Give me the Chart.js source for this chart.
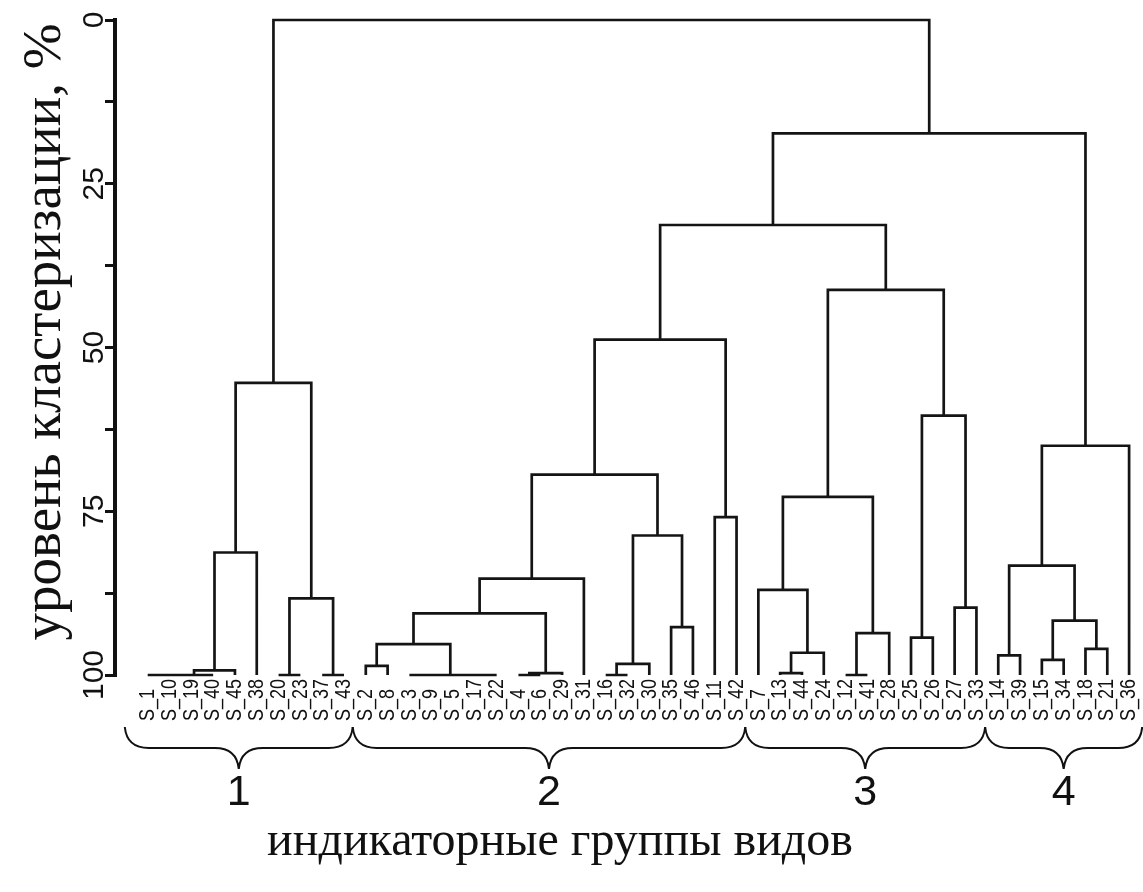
<!DOCTYPE html>
<html>
<head>
<meta charset="utf-8">
<script src="https://cdn.jsdelivr.net/npm/chart.js"></script>
<style>
  body { margin: 0; background: #fff; }
  #wrap { width: 1143px; height: 892px; }
</style>
</head>
<body>
<div id="wrap"><canvas id="dendro"></canvas></div>
<script>
// leaves in the order they stand along the bottom
const leaves = ['S_1', 'S_10', 'S_19', 'S_40', 'S_45', 'S_38', 'S_20', 'S_23', 'S_37', 'S_43',
    'S_2', 'S_8', 'S_3', 'S_9', 'S_5', 'S_17', 'S_22', 'S_4', 'S_6', 'S_29', 'S_31', 'S_16',
    'S_32', 'S_30', 'S_35', 'S_46', 'S_11', 'S_42', 'S_7', 'S_13', 'S_44', 'S_24', 'S_12',
    'S_41', 'S_28', 'S_25', 'S_26', 'S_27', 'S_33', 'S_14', 'S_39', 'S_15', 'S_34', 'S_18',
    'S_21', 'S_36'];

// merges: [left, right, level %] - a string is a leaf, a number is an earlier merge
const merges = [
    ['S_1', 'S_10', 100], [0, 'S_19', 100], [1, 'S_40', 100], [2, 'S_45', 99.3],
    [3, 'S_38', 81.3], ['S_20', 'S_23', 100], ['S_37', 'S_43', 100], [5, 6, 88.3],
    [4, 7, 55.4],
    ['S_2', 'S_8', 98.6], ['S_3', 'S_9', 100], ['S_5', 'S_17', 100], [11, 'S_22', 100],
    [10, 12, 100], [9, 13, 95.3], ['S_4', 'S_6', 100], [15, 'S_29', 99.7], [14, 16, 90.6],
    [17, 'S_31', 85.3], ['S_16', 'S_32', 100], [19, 'S_30', 98.3], ['S_35', 'S_46', 92.7],
    [20, 21, 78.7], [18, 22, 69.4], ['S_11', 'S_42', 75.9], [23, 24, 48.8],
    ['S_13', 'S_44', 99.7], [26, 'S_24', 96.6], ['S_7', 27, 87.0], ['S_12', 'S_41', 100],
    [29, 'S_28', 93.6], [28, 30, 72.8], ['S_25', 'S_26', 94.3], ['S_27', 'S_33', 89.7],
    [32, 33, 60.4], [31, 34, 41.2], [25, 35, 31.3],
    ['S_14', 'S_39', 97.0], ['S_15', 'S_34', 97.7], ['S_18', 'S_21', 96.0], [38, 39, 91.7],
    [37, 40, 83.3], [41, 'S_36', 65.0], [36, 42, 17.3],
    [8, 43, 0]
];

const groupNames = ['1', '2', '3', '4'];
const groupSizes = [10, 18, 11, 7];
const yTicks = [0, 25, 50, 75, 100];

// turn merges into one broken line of brackets
const leafPos = {};
leaves.forEach((name, i) => { leafPos[name] = i + 1; });
const nodeX = [], nodeH = [];
const posOf = c => typeof c === 'string' ? leafPos[c] : nodeX[c];
const levelOf = c => typeof c === 'string' ? 100 : nodeH[c];

const segments = [];
merges.forEach(([a, b, h], i) => {
    const xa = posOf(a), xb = posOf(b);
    segments.push({ x: xa, y: levelOf(a) }, { x: xa, y: h }, { x: xb, y: h },
        { x: xb, y: levelOf(b) }, { x: xb, y: null });
    nodeX[i] = (xa + xb) / 2;
    nodeH[i] = h;
});

const sans = '"Liberation Sans", Arial, sans-serif';
const serif = '"Liberation Serif", "Times New Roman", serif';

// text turned to read upwards; stretch widens the glyphs across the page
function rotatedText(ctx, text, px, py, align, stretch = 1) {
    ctx.save();
    ctx.translate(px, py);
    ctx.rotate(-Math.PI / 2);
    ctx.scale(1, stretch);
    ctx.textAlign = align;
    ctx.fillText(text, 0, 0);
    ctx.restore();
}

const textPlugin = {
    id: 'dendroText',
    afterDraw(chart) {
        const { ctx, scales: { x, y } } = chart;
        ctx.save();
        ctx.fillStyle = '#111';
        ctx.strokeStyle = '#111';
        ctx.textBaseline = 'middle';

        ctx.font = '18px ' + sans;
        leaves.forEach((name, i) => rotatedText(ctx, name, x.getPixelForValue(i + 1), 721, 'left', 1.25));

        ctx.font = '30px ' + sans;
        yTicks.forEach(v => rotatedText(ctx, String(v), 95, y.getPixelForValue(v), 'center'));

        ctx.font = '55px ' + serif;
        rotatedText(ctx, 'уровень кластеризации, %', 46, 332, 'center');

        // curly braces under the groups
        let start = 0;
        ctx.lineWidth = 2;
        groupSizes.forEach((n, g) => {
            const end = start + n;
            const a = x.getPixelForValue(g === 0 ? -0.05 : start + 0.4);
            const b = x.getPixelForValue(g === groupSizes.length - 1 ? end + 0.6 : end + 0.4);
            const c = (a + b) / 2, r = 24;
            const y0 = 727, y1 = 748, y2 = 769;
            ctx.beginPath();
            ctx.moveTo(a, y0);
            ctx.quadraticCurveTo(a + 2, y1, a + r, y1);
            ctx.lineTo(c - r, y1);
            ctx.quadraticCurveTo(c - 2, y1, c, y2);
            ctx.quadraticCurveTo(c + 2, y1, c + r, y1);
            ctx.lineTo(b - r, y1);
            ctx.quadraticCurveTo(b - 2, y1, b, y0);
            ctx.stroke();

            ctx.font = '43px ' + sans;
            ctx.textAlign = 'center';
            ctx.fillText(groupNames[g], c, 793);
            start = end;
        });

        ctx.font = '48px ' + serif;
        ctx.textAlign = 'center';
        ctx.fillText('индикаторные группы видов', 560, 842);
        ctx.restore();
    }
};

new Chart(document.getElementById('dendro'), {
    type: 'line',
    data: {
        datasets: [{
            data: segments,
            borderColor: '#141414',
            borderWidth: 2.7,
            pointRadius: 0,
            tension: 0,
            spanGaps: false,
            clip: false
        }]
    },
    options: {
        responsive: true,
        maintainAspectRatio: false,
        animation: false,
        layout: { padding: { top: 20, right: 3, bottom: 217, left: 0 } },
        plugins: {
            legend: { display: false },
            tooltip: { enabled: false }
        },
        scales: {
            x: { type: 'linear', min: -0.5, max: 46.5, display: false },
            y: {
                min: 0,
                max: 100,
                reverse: true,
                afterFit: scale => { scale.width = 115; },
                ticks: { stepSize: 12.5, display: false },
                grid: { drawOnChartArea: false, drawTicks: true, tickLength: 10, lineWidth: 3, color: '#111' },
                border: { display: true, width: 4, color: '#111' }
            }
        }
    },
    plugins: [textPlugin]
});
</script>
</body>
</html>
